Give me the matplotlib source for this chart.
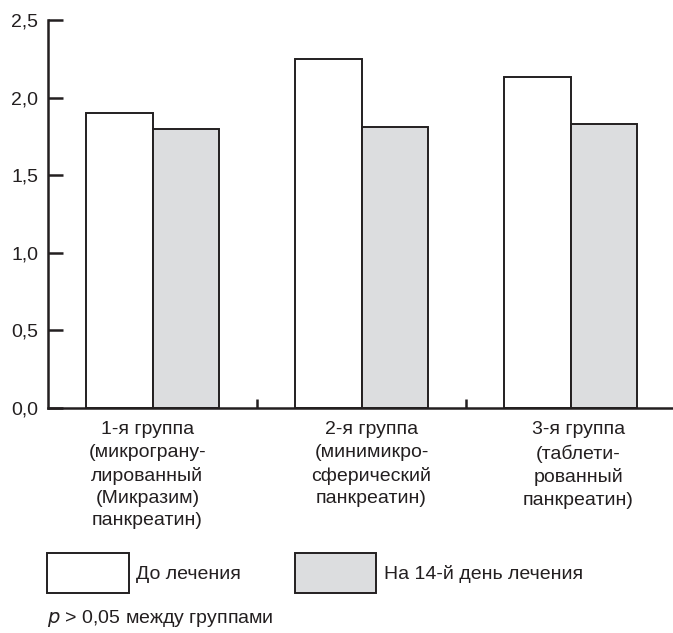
import matplotlib
matplotlib.use("Agg")
import matplotlib.pyplot as plt
import numpy as np

plt.rcParams['font.family'] = ['Liberation Sans Narrow', 'Liberation Sans', 'DejaVu Sans']

categories = [
    "1-я группа\n(микрограну-\nлированный\n(Микразим)\nпанкреатин)",
    "2-я группа\n(минимикро-\nсферический\nпанкреатин)",
    "3-я группа\n(таблети-\nрованный\nпанкреатин)",
]
series_names = ["До лечения", "На 14-й день лечения"]
before = [1.90, 2.25, 2.13]
after = [1.80, 1.81, 1.83]
yticks = [0.0, 0.5, 1.0, 1.5, 2.0, 2.5]
ytick_labels = ["0,0", "0,5", "1,0", "1,5", "2,0", "2,5"]
note = "$p$ > 0,05 между группами"

INK = "#231f20"
GRAY = "#dcdddf"
FS = 14

fig = plt.figure(figsize=(6.73, 6.33), dpi=100)
ax = fig.add_axes([48/673, 1-408/633, 1-48/673+0.003, (408-20)/633])

x = np.arange(len(categories))
w = 0.32
b1 = ax.bar(x - w/2, before, w, color="white", edgecolor=INK, linewidth=1.4, label=series_names[0])
b2 = ax.bar(x + w/2, after, w, color=GRAY, edgecolor=INK, linewidth=1.4, label=series_names[1])

ax.set_xlim(-0.5, 2.5)
ax.set_ylim(0, 2.5)
ax.set_yticks(yticks)
ax.set_yticklabels(ytick_labels, fontsize=FS, color=INK)
ax.tick_params(axis='y', direction='in', length=10.5, width=1.8, color=INK, pad=7)

ax.set_xticks([0.5, 1.5])
ax.set_xticklabels([])
ax.tick_params(axis='x', direction='in', length=6.5, width=1.8, color=INK)
ax.set_xticks(x, minor=True)
ax.set_xticklabels(categories, minor=True, fontsize=FS, color=INK, linespacing=1.42)
ax.tick_params(axis='x', which='minor', length=0, pad=9.5)
for lbl, dx in zip(ax.get_xticklabels(minor=True), [-5, 10, 8]):
    lbl.set_transform(lbl.get_transform() + matplotlib.transforms.ScaledTranslation(dx/100, 0, fig.dpi_scale_trans))

for s in ['top', 'right']:
    ax.spines[s].set_visible(False)
for s in ['left', 'bottom']:
    ax.spines[s].set_linewidth(1.8)
    ax.spines[s].set_color(INK)

leg = fig.legend(handles=[b1, b2], labels=series_names, loc='upper left',
                 bbox_to_anchor=(47/673, 1-553/633), ncol=2, frameon=False,
                 handlelength=4.2, handleheight=2.76, handletextpad=0.4,
                 columnspacing=2.75, borderpad=0, borderaxespad=0,
                 prop={'size': FS})
for t in leg.get_texts():
    t.set_color(INK)

fig.text(47/673, 1-623/633, note, fontsize=FS, color=INK, va='baseline', ha='left')

fig.savefig("out.png", dpi=100)
